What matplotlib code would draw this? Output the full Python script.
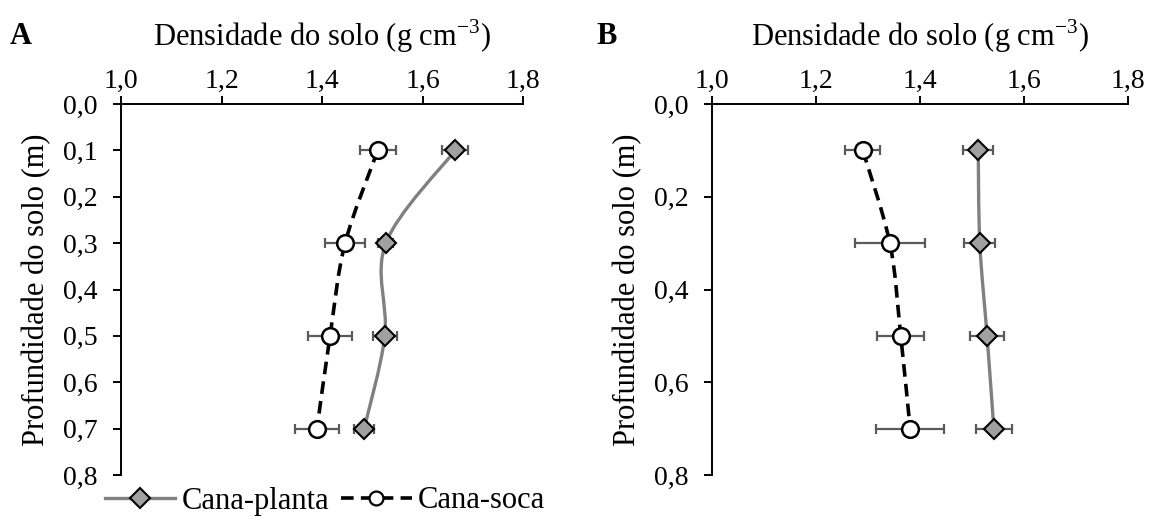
import numpy as np
import matplotlib.pyplot as plt
from matplotlib.path import Path
from matplotlib.patches import PathPatch
from matplotlib.lines import Line2D
from matplotlib.ticker import FuncFormatter

plt.rcParams['font.family'] = ['Liberation Serif', 'DejaVu Serif']
plt.rcParams['mathtext.fontset'] = 'custom'
plt.rcParams['mathtext.rm'] = 'Liberation Serif'

# dados (densidade em g cm-3, profundidade em m)
profundidade = [0.1, 0.3, 0.5, 0.7]

planta_a = [1.665, 1.527, 1.525, 1.484]
planta_a_err = [0.026, 0.015, 0.024, 0.020]
soca_a = [1.511, 1.446, 1.416, 1.390]
soca_a_err = [0.036, 0.040, 0.044, 0.043]

planta_b = [1.512, 1.515, 1.529, 1.542]
planta_b_err = [0.029, 0.030, 0.033, 0.035]
soca_b = [1.290, 1.342, 1.363, 1.381]
soca_b_err = [0.034, 0.067, 0.045, 0.065]

x_ticks = [1.0, 1.2, 1.4, 1.6, 1.8]

GRAY = '#808080'
ERR = '#5a5a5a'


def smooth_path(x, y):
    # curva suavizada tipo Excel (Catmull-Rom -> Bezier)
    pts = np.column_stack([x, y])
    n = len(pts)
    verts = [pts[0]]
    codes = [Path.MOVETO]
    for i in range(n - 1):
        p0 = pts[max(i - 1, 0)]
        p1 = pts[i]
        p2 = pts[i + 1]
        p3 = pts[min(i + 2, n - 1)]
        verts += [p1 + (p2 - p0) / 6, p2 - (p3 - p1) / 6, p2]
        codes += [Path.CURVE4] * 3
    return Path(verts, codes)


def comma(v, pos):
    return f'{v:.1f}'.replace('.', ',')


def draw_panel(ax, planta, planta_err, soca, soca_err, y_step):
    ax.add_patch(PathPatch(smooth_path(planta, profundidade), fill=False,
                           edgecolor=GRAY, lw=2.4, zorder=2))
    soca_line = PathPatch(smooth_path(soca, profundidade), fill=False,
                          edgecolor='black', lw=2.6, zorder=2)
    soca_line.set_linestyle((0, (3.5, 2.0)))
    ax.add_patch(soca_line)

    ax.errorbar(planta, profundidade, xerr=planta_err, fmt='none',
                ecolor=ERR, elinewidth=1.6, capsize=3.6, capthick=1.6, zorder=3)
    ax.errorbar(soca, profundidade, xerr=soca_err, fmt='none',
                ecolor=ERR, elinewidth=1.6, capsize=3.6, capthick=1.6, zorder=3)

    ax.plot(planta, profundidade, ls='none', marker='D', ms=10,
            mfc='#a0a0a0', mec='black', mew=1.5, zorder=4)
    ax.plot(soca, profundidade, ls='none', marker='o', ms=12,
            mfc='white', mec='black', mew=1.8, zorder=4)

    ax.set_xlim(1.0, 1.8)
    ax.set_ylim(0.8, 0.0)
    ax.set_xticks(x_ticks)
    ax.set_yticks(np.arange(0, 0.81, y_step))
    ax.xaxis.set_major_formatter(FuncFormatter(comma))
    ax.yaxis.set_major_formatter(FuncFormatter(comma))
    ax.xaxis.tick_top()
    ax.xaxis.set_label_position('top')
    for s in ['right', 'bottom']:
        ax.spines[s].set_visible(False)
    for s in ['left', 'top']:
        ax.spines[s].set_linewidth(1.4)
    ax.tick_params(axis='x', direction='out', length=6, width=1.4,
                   labelsize=20, pad=1)
    ax.tick_params(axis='y', direction='out', length=6, width=1.4,
                   labelsize=20, pad=11)
    ax.set_xlabel('Densidade do solo (g cm$^{\\mathrm{-3}}$)', fontsize=22,
                  labelpad=17)
    ax.set_ylabel('Profundidade do solo (m)', fontsize=22, labelpad=8)


fig = plt.figure(figsize=(11.49, 5.22), dpi=100)
ax_a = fig.add_axes([121 / 1149, 1 - 475 / 522, 402 / 1149, 371 / 522])
ax_b = fig.add_axes([712 / 1149, 1 - 475 / 522, 416 / 1149, 371 / 522])

draw_panel(ax_a, planta_a, planta_a_err, soca_a, soca_a_err, 0.1)
draw_panel(ax_b, planta_b, planta_b_err, soca_b, soca_b_err, 0.2)

fig.text(10 / 1149, 1 - 36 / 522, 'A', fontsize=22, fontweight='bold', va='center')
fig.text(596 / 1149, 1 - 36 / 522, 'B', fontsize=22, fontweight='bold', va='center')

handles = [
    Line2D([], [], color=GRAY, lw=2.4, marker='D', ms=10,
           mfc='#a0a0a0', mec='black', mew=1.5),
    Line2D([], [], color='black', lw=2.6, ls=(0, (3.5, 2.0)), marker='o',
           ms=10, mfc='white', mec='black', mew=1.6),
]
fig.legend(handles, ['Cana-planta', 'Cana-soca'], loc='center',
           bbox_to_anchor=(325 / 1149, 1 - 501 / 522), ncol=2, frameon=False,
           fontsize=22, handlelength=2.3, handletextpad=0.2, columnspacing=0.4,
           borderpad=0.1)

fig.savefig('out.png', dpi=100)
